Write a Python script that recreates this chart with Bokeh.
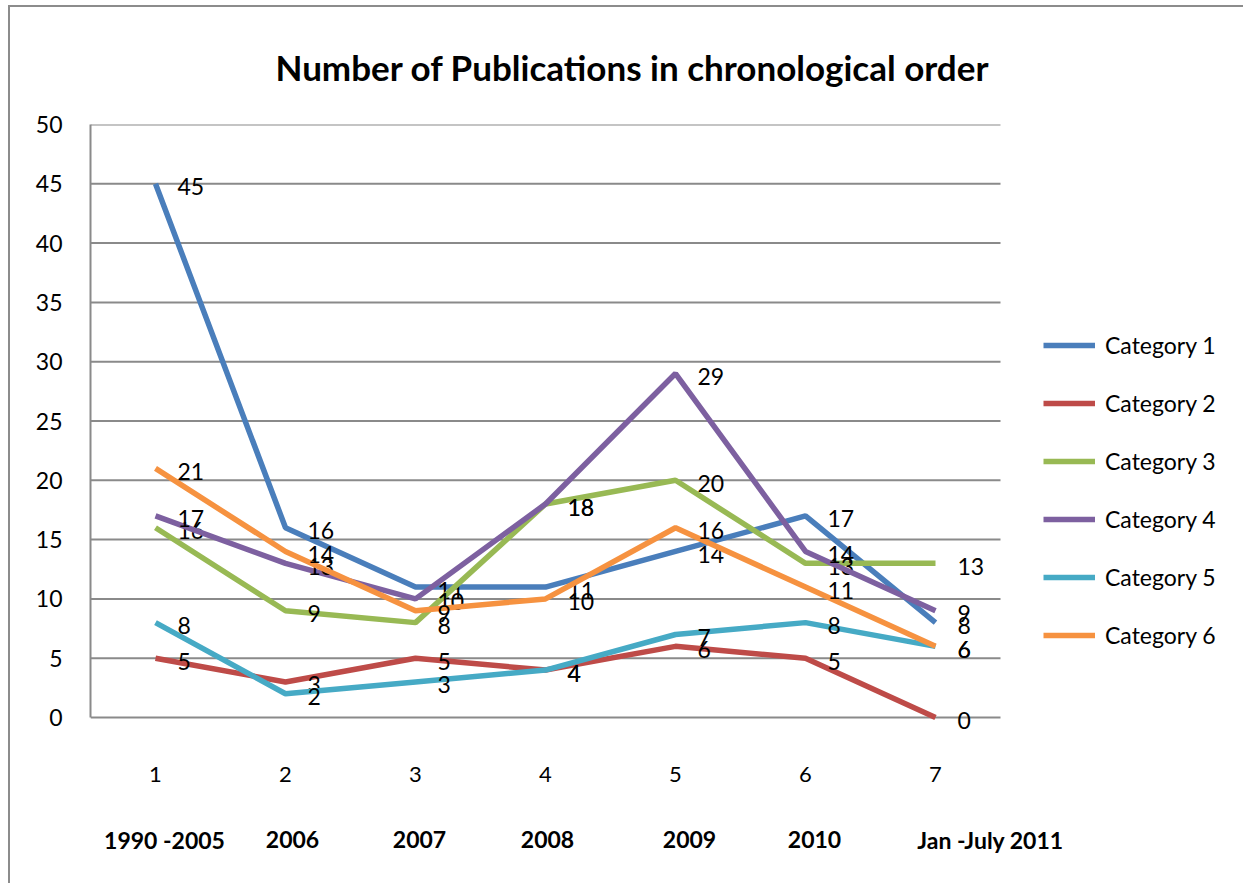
from bokeh.plotting import figure
from bokeh.models import Range1d, FixedTicker, Legend, LegendItem, ColumnDataSource, LabelSet
from bokeh.core.properties import value
from bokeh.embed import file_html
from bokeh.resources import INLINE

x_idx = [1, 2, 3, 4, 5, 6, 7]
periods = ["1990 -2005", "2006", "2007", "2008", "2009", "2010", "Jan -July 2011"]
series_names = ["Category 1", "Category 2", "Category 3", "Category 4", "Category 5", "Category 6"]
cat1 = [45, 16, 11, 11, 14, 17, 8]
cat2 = [5, 3, 5, 4, 6, 5, 0]
cat3 = [16, 9, 8, 18, 20, 13, 13]
cat4 = [17, 13, 10, 18, 29, 14, 9]
cat5 = [8, 2, 3, 4, 7, 8, 6]
cat6 = [21, 14, 9, 10, 16, 11, 6]
series = [cat1, cat2, cat3, cat4, cat5, cat6]
colors = ["#4A7EBB", "#BE4B48", "#98B954", "#7D60A0", "#46AAC5", "#F69240"]
y_ticks = [0, 5, 10, 15, 20, 25, 30, 35, 40, 45, 50]

FONT = "Lato"
GRID = "#8a8a8a"

# layout (pixels)
W, H = 1235, 878
LEFT, TOP = 80, 117
frame_w = W - LEFT
frame_h = H - TOP
px_per_x = 130.0          # one category slot
px_per_y = 593.0 / 50.0   # plot area 0..50
x_start = x_idx[0] - 0.5
x_end = x_start + frame_w / px_per_x
y_top = y_ticks[-1]
y_start = y_top - frame_h / px_per_y

p = figure(width=W, height=H, x_range=Range1d(x_start, x_end), y_range=Range1d(y_start, y_top),
           output_backend="svg", toolbar_location=None,
           min_border_left=LEFT, min_border_right=0, min_border_top=TOP, min_border_bottom=0,
           x_axis_type=None)
p.styles = {"margin-left": "8px", "margin-top": "5px",
            "border-left": "2px solid #8c8c8c", "border-top": "2px solid #8c8c8c"}
p.outline_line_color = None
p.background_fill_color = "white"
p.border_fill_color = "white"

p.title.text = "Number of Publications in chronological order"
p.title.text_font = FONT
p.title.text_font_size = "35px"
p.title.text_font_style = "bold"
p.title.text_color = "black"
p.title.align = "left"
p.title.vertical_align = "top"
p.title.offset = 185
p.title.standoff = 70

# y axis
p.yaxis.ticker = FixedTicker(ticks=y_ticks)
p.yaxis.bounds = (y_ticks[0], y_ticks[-1])
p.yaxis.major_tick_line_color = None
p.yaxis.minor_tick_line_color = None
p.yaxis.axis_line_color = GRID
p.yaxis.axis_line_width = 2
p.yaxis.major_label_standoff = 22
p.yaxis.major_label_text_font = FONT
p.yaxis.major_label_text_font_size = "23px"
p.yaxis.major_label_text_color = "black"

p.xgrid.grid_line_color = None
p.ygrid.grid_line_color = None

# horizontal gridlines limited to the plot area
gx0 = x_idx[0] - 0.5
gx1 = x_idx[-1] + 0.5
p.segment(x0=[gx0] * len(y_ticks), x1=[gx1] * len(y_ticks), y0=y_ticks, y1=y_ticks,
          line_color=GRID, line_width=2)

# category number row and period row
cat_src = ColumnDataSource(dict(x=x_idx, t=[str(i) for i in x_idx],
                                p=periods, dx=[9, 7, 4, 2, 14, 9, 55]))
p.add_layout(LabelSet(x="x", y=111, y_units="screen", text="t", source=cat_src,
                      text_align="center", text_baseline="middle",
                      text_font=value(FONT), text_font_size="22px", text_color="black"))
p.add_layout(LabelSet(x="x", y=46, y_units="screen", text="p", source=cat_src,
                      x_offset="dx", text_align="center", text_baseline="middle",
                      text_font=value(FONT), text_font_size="23px", text_font_style="bold",
                      text_color="black"))

items = []
for name, vals, col in zip(series_names, series, colors):
    src = ColumnDataSource(dict(x=x_idx, y=vals, t=[str(v) for v in vals]))
    r = p.line("x", "y", source=src, line_color=col, line_width=5.5)
    p.text("x", "y", text="t", source=src, x_offset=22, y_offset=3,
           text_baseline="middle", text_align="left",
           text_font=value(FONT), text_font_size="23px", text_color="black")
    items.append(LegendItem(label=name, renderers=[r]))

legend = Legend(items=items, location=(953, 236))
legend.glyph_width = 52
legend.glyph_height = 20
legend.label_height = 20
legend.spacing = 30
legend.label_standoff = 10
legend.label_text_font = FONT
legend.label_text_font_size = "23px"
legend.label_text_color = "black"
legend.border_line_color = None
legend.background_fill_alpha = 0
legend.padding = 0
legend.margin = 0
p.add_layout(legend, "center")

open("out.html", "w").write(file_html(p, INLINE))
